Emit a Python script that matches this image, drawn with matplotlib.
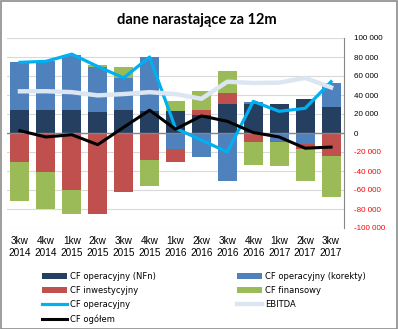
import numpy as np
import matplotlib
matplotlib.use('Agg')
import matplotlib.pyplot as plt
from matplotlib.patches import Rectangle
from matplotlib.ticker import FuncFormatter

# quarters
kwartaly = ['3kw\n2014', '4kw\n2014', '1kw\n2015', '2kw\n2015', '3kw\n2015', '4kw\n2015',
            '1kw\n2016', '2kw\n2016', '3kw\n2016', '4kw\n2016', '1kw\n2017', '2kw\n2017', '3kw\n2017']

# stacked components (thousands)
cf_nfn = [24.6, 24.6, 24.6, 22.5, 24.6, 23.5, 23.5, 19.3, 30.9, 30.9, 30.9, 36.0, 27.7]
cf_korekty = [49.8, 51.4, 57.9, 47.5, 33.4, 56.5, -16.5, -25.5, -51.0, 2.0, -8.8, -11.2, 25.3]
cf_inwest = [-30.9, -41.4, -59.7, -85.0, -62.5, -28.0, -13.5, 5.3, 11.0, -9.8, -1.0, -5.6, -24.0]
cf_finans = [-41.1, -38.3, -25.3, 2.0, 11.0, -27.5, 10.5, 19.3, 23.0, -23.6, -25.2, -34.2, -43.8]

# lines
cf_oper = [74.4, 75.4, 83.0, 70.0, 58.0, 80.0, 5.0, -7.5, -20.0, 33.3, 22.8, 26.0, 54.0]
ebitda = [43.9, 44.0, 43.0, 39.6, 41.0, 43.0, 41.0, 36.0, 54.0, 52.6, 53.0, 58.0, 48.0]
cf_ogolem = [2.4, -4.2, -1.8, -12.3, 6.0, 24.0, 4.0, 18.0, 12.3, 0.5, -4.2, -16.0, -14.8]

W, H = 398, 329
fig = plt.figure(figsize=(W / 100, H / 100), dpi=100)
fig.patches.append(Rectangle((0.5 / W, 0.5 / H), 1 - 1.5 / W, 1 - 1.5 / H, transform=fig.transFigure,
                             fill=False, edgecolor='#8c8c8c', linewidth=1.2))

ax = fig.add_axes([7 / W, 1 - 228 / H, (344 - 7) / W, (228 - 38) / H])
x = np.arange(len(kwartaly))

series = [(cf_nfn, '#243F60', 'CF operacyjny (NFn)'),
          (cf_korekty, '#4F81BD', 'CF operacyjny (korekty)'),
          (cf_inwest, '#C0504D', 'CF inwestycyjny'),
          (cf_finans, '#9BBB59', 'CF finansowy')]

pos_bottom = np.zeros(len(x))
neg_bottom = np.zeros(len(x))
bar_handles = []
for vals, col, lab in series:
    v = np.array(vals) * 1000
    bottom = np.where(v >= 0, pos_bottom, neg_bottom)
    b = ax.bar(x, v, 0.73, bottom=bottom, color=col, label=lab, zorder=2)
    bar_handles.append(b)
    pos_bottom += np.where(v >= 0, v, 0)
    neg_bottom += np.where(v < 0, v, 0)

l1, = ax.plot(x, np.array(cf_oper) * 1000, color='#00B0F0', lw=2.3, label='CF operacyjny', zorder=3)
l2, = ax.plot(x, np.array(ebitda) * 1000, color='#DCE6F2', lw=3.2, label='EBITDA', zorder=4)
l3, = ax.plot(x, np.array(cf_ogolem) * 1000, color='black', lw=2.2, label='CF ogółem', zorder=5)

ax.set_ylim(-100000, 100000)
ax.set_xlim(-0.5, len(x) - 0.5)
ax.set_yticks(np.arange(-100000, 100001, 20000))
ax.yaxis.tick_right()
ax.yaxis.set_major_formatter(FuncFormatter(lambda v, p: f'{int(v):,}'.replace(',', ' ')))
ax.tick_params(axis='y', length=0, pad=7, labelsize=5.8)
for t in ax.get_yticklabels():
    t.set_horizontalalignment('left')
    t.set_fontfamily('Liberation Sans')
for t, v in zip(ax.get_yticklabels(), ax.get_yticks()):
    t.set_color('#FF0000' if v < 0 else 'black')
ax.set_xticks(x)
ax.set_xticklabels(kwartaly, fontsize=7.2, family='Liberation Sans', linespacing=1.15)
ax.tick_params(axis='x', length=0, pad=6)
ax.grid(axis='y', color='#D9D9D9', lw=0.8, zorder=0)
ax.axhline(0, color='#868686', lw=1, zorder=2.5)
for s in ['left', 'top', 'bottom']:
    ax.spines[s].set_visible(False)
ax.spines['right'].set_color('#868686')

fig.text(197 / W, 1 - 20 / H, 'dane narastające za 12m', ha='center', va='center',
         fontsize=10.5, fontweight='bold', family='Lato')

leg_kw = dict(frameon=False, handlelength=3.0, handleheight=0.6, handletextpad=0.35, labelspacing=0.6,
              borderpad=0, borderaxespad=0, loc='upper left', prop={'family': 'DejaVu Sans', 'size': 6})
fig.legend([bar_handles[0], bar_handles[2], l1, l3],
           ['CF operacyjny (NFn)', 'CF inwestycyjny', 'CF operacyjny', 'CF ogółem'],
           bbox_to_anchor=(42 / W, 1 - 272 / H), **leg_kw)
fig.legend([bar_handles[1], bar_handles[3], l2],
           ['CF operacyjny (korekty)', 'CF finansowy', 'EBITDA'],
           bbox_to_anchor=(237 / W, 1 - 272 / H), **leg_kw)

fig.savefig('out.png', dpi=100)
